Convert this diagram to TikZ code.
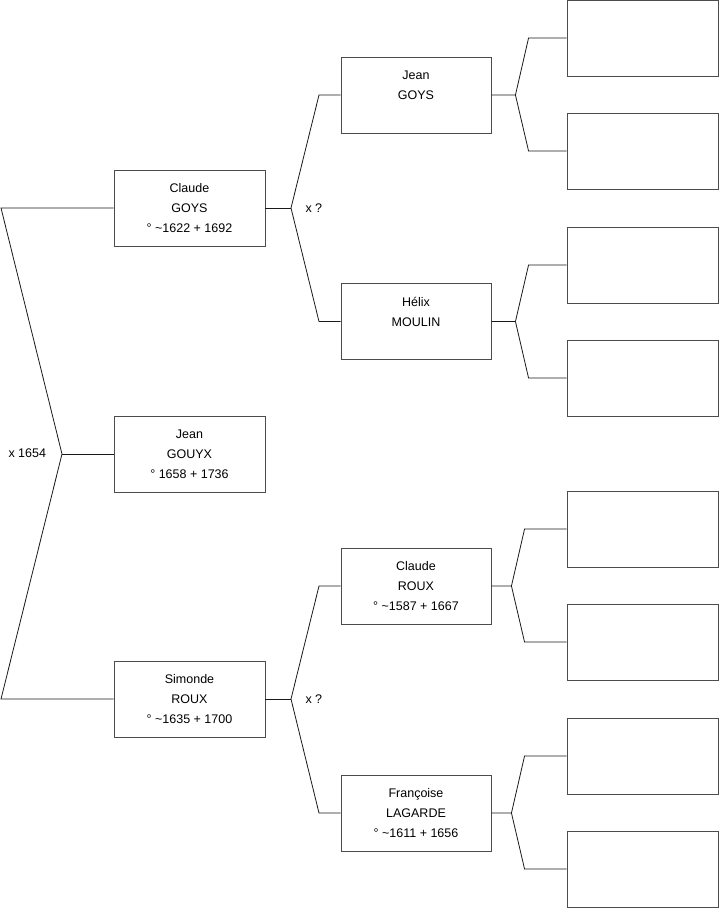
\documentclass[tikz,border=0pt]{standalone}
\usepackage{fontspec}
\setmainfont{Liberation Sans}
\usetikzlibrary{calc}

\begin{document}
\begin{tikzpicture}[x=1pt, y=-1pt,
  person/.style={draw=black!70, line width=0.9pt, minimum width=151pt,
                 minimum height=76pt, inner sep=0pt, align=center,
                 font=\fontsize{12.5}{20}\selectfont},
  link/.style={draw=black!90, line width=0.8pt},
  union/.style={anchor=west, font=\fontsize{12.5}{15}\selectfont}]

  \useasboundingbox (0,0) rectangle (719,908);

  % first generation
  \node[person] (cgoys)  at (189.5,208) {Claude\\GOYS\\° \textasciitilde1622 + 1692};
  \node[person] (jgouyx) at (189.5,454) {Jean\\GOUYX\\° 1658 + 1736};
  \node[person] (sroux)  at (189.5,699) {Simonde\\ROUX\\° \textasciitilde1635 + 1700};

  % parents
  \node[person, minimum width=150pt] (jgoys)    at (416,95)    {Jean\\GOYS\\\mbox{}};
  \node[person, minimum width=150pt] (hmoulin)  at (416,321.5) {Hélix\\MOULIN\\\mbox{}};
  \node[person, minimum width=150pt] (croux)    at (416,586)   {Claude\\ROUX\\° \textasciitilde1587 + 1667};
  \node[person, minimum width=150pt] (flagarde) at (416,813)   {Françoise\\LAGARDE\\° \textasciitilde1611 + 1656};

  % grandparents, unknown
  \foreach \n/\y in {1/38, 2/151, 3/265, 4/378, 5/529, 6/642, 7/756, 8/869}
    \node[person] (gp\n) at (642.5,\y) {};

  % couples
  \coordinate (f0)  at (62,454);
  \coordinate (f0u) at (1,208);
  \coordinate (f0d) at (1,699);
  \draw[link] (cgoys.west) -- (f0u) -- (f0) -- (f0d) -- (sroux.west);
  \draw[link] (f0) -- (jgouyx.west);
  \node[union] (m0) at (5,453) {x 1654};

  \coordinate (f1)  at (291,208);
  \coordinate (f1u) at (319,95);
  \coordinate (f1d) at (319,321.5);
  \draw[link] (cgoys.east) -- (f1);
  \draw[link] (jgoys.west) -- (f1u) -- (f1) -- (f1d) -- (hmoulin.west);
  \node[union] (m1) at (302,208) {x ?};

  \coordinate (f2)  at (291,699);
  \coordinate (f2u) at (319,586);
  \coordinate (f2d) at (319,813);
  \draw[link] (sroux.east) -- (f2);
  \draw[link] (croux.west) -- (f2u) -- (f2) -- (f2d) -- (flagarde.west);
  \node[union] (m2) at (302,699) {x ?};

  % links to the empty boxes
  \foreach \p/\u/\d/\a/\b in {jgoys/gp1/gp2/24/38, hmoulin/gp3/gp4/24/38,
                              croux/gp5/gp6/20/42, flagarde/gp7/gp8/20/42} {
    \draw[link] (\p.east) -- ++(\a,0) coordinate (fk)
      -- ($(\u.west)+(-\b,0)$) -- (\u.west);
    \draw[link] (fk) -- ($(\d.west)+(-\b,0)$) -- (\d.west);
  }
\end{tikzpicture}
\end{document}
